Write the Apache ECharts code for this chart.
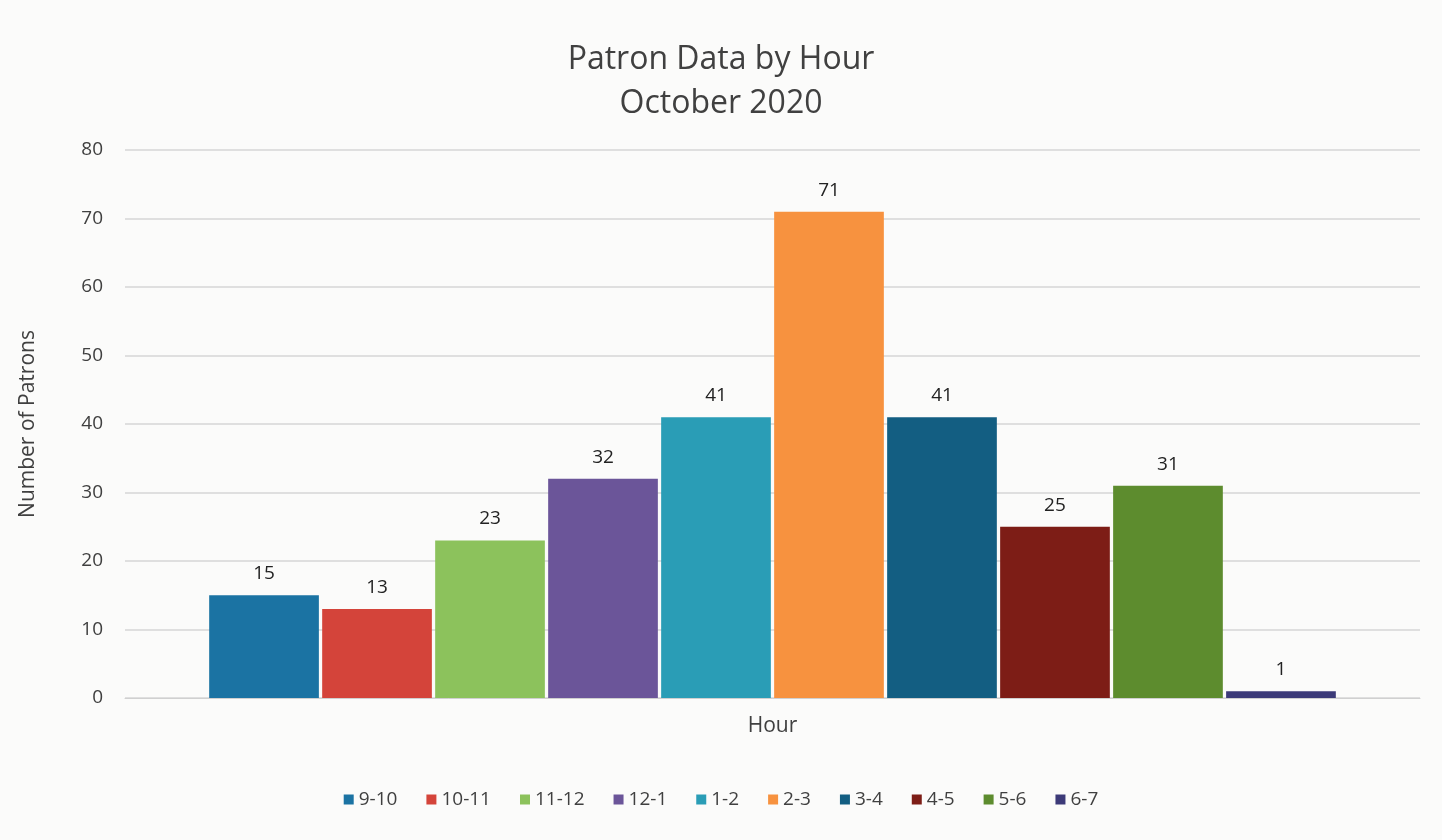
<!DOCTYPE html>
<html>
<head>
<meta charset="utf-8">
<script src="https://cdn.jsdelivr.net/npm/echarts@6/dist/echarts.min.js"></script>
<style>
html,body{margin:0;padding:0;background:#fbfbfa;}
#chart{width:1442px;height:840px;}
</style>
</head>
<body>
<div id="chart"></div>
<script>
const categories = ['Hour'];
const seriesNames = ['9-10','10-11','11-12','12-1','1-2','2-3','3-4','4-5','5-6','6-7'];
const seriesValues = [15, 13, 23, 32, 41, 71, 41, 25, 31, 1];
const seriesColors = ['#1b73a3','#d4443a','#8cc25c','#6b5599','#2a9db6','#f7923f','#135e82','#7d1d16','#5d8c2e','#3c3a78'];
const yTicks = [0, 10, 20, 30, 40, 50, 60, 70, 80];

const chart = echarts.init(document.getElementById('chart'));
const FONT = '"Open Sans", "Liberation Sans", sans-serif';
chart.setOption({
  backgroundColor: '#fbfbfa',
  textStyle: { fontFamily: FONT },
  title: {
    text: 'Patron Data by Hour\nOctober 2020',
    left: 'center',
    top: 33,
    textStyle: { fontFamily: FONT, fontSize: 32, fontWeight: 'normal', color: '#404040', lineHeight: 44 }
  },
  legend: {
    bottom: 26,
    left: 'center',
    itemWidth: 10, itemHeight: 10, itemGap: 29,
    icon: 'rect',
    textStyle: { fontFamily: FONT, fontSize: 19, color: '#404040' },
    data: seriesNames
  },
  grid: { left: 125, right: 22, top: 150, bottom: 142 },
  xAxis: {
    type: 'category',
    data: categories,
    axisLine: { lineStyle: { color: '#d0d0d0' } },
    axisTick: { show: false },
    axisLabel: { fontFamily: FONT, fontSize: 21, color: '#404040', margin: 18 }
  },
  yAxis: {
    type: 'value',
    min: yTicks[0], max: yTicks[yTicks.length - 1], interval: 10,
    name: 'Number of Patrons',
    nameLocation: 'middle',
    nameGap: 86,
    nameTextStyle: { fontFamily: FONT, fontSize: 21, color: '#404040' },
    axisLine: { show: false },
    axisTick: { show: false },
    axisLabel: { fontFamily: FONT, fontSize: 19, color: '#404040', margin: 22 },
    splitLine: { lineStyle: { color: '#d6d6d6', width: 1.5 } }
  },
  series: seriesNames.map((n, i) => ({
    name: n,
    type: 'bar',
    data: [seriesValues[i]],
    barGap: '3%',
    barCategoryGap: '13%',
    itemStyle: { color: seriesColors[i] },
    label: { show: true, position: 'top', distance: 12, fontFamily: FONT, fontSize: 19, color: '#222' }
  }))
});
</script>
</body>
</html>
